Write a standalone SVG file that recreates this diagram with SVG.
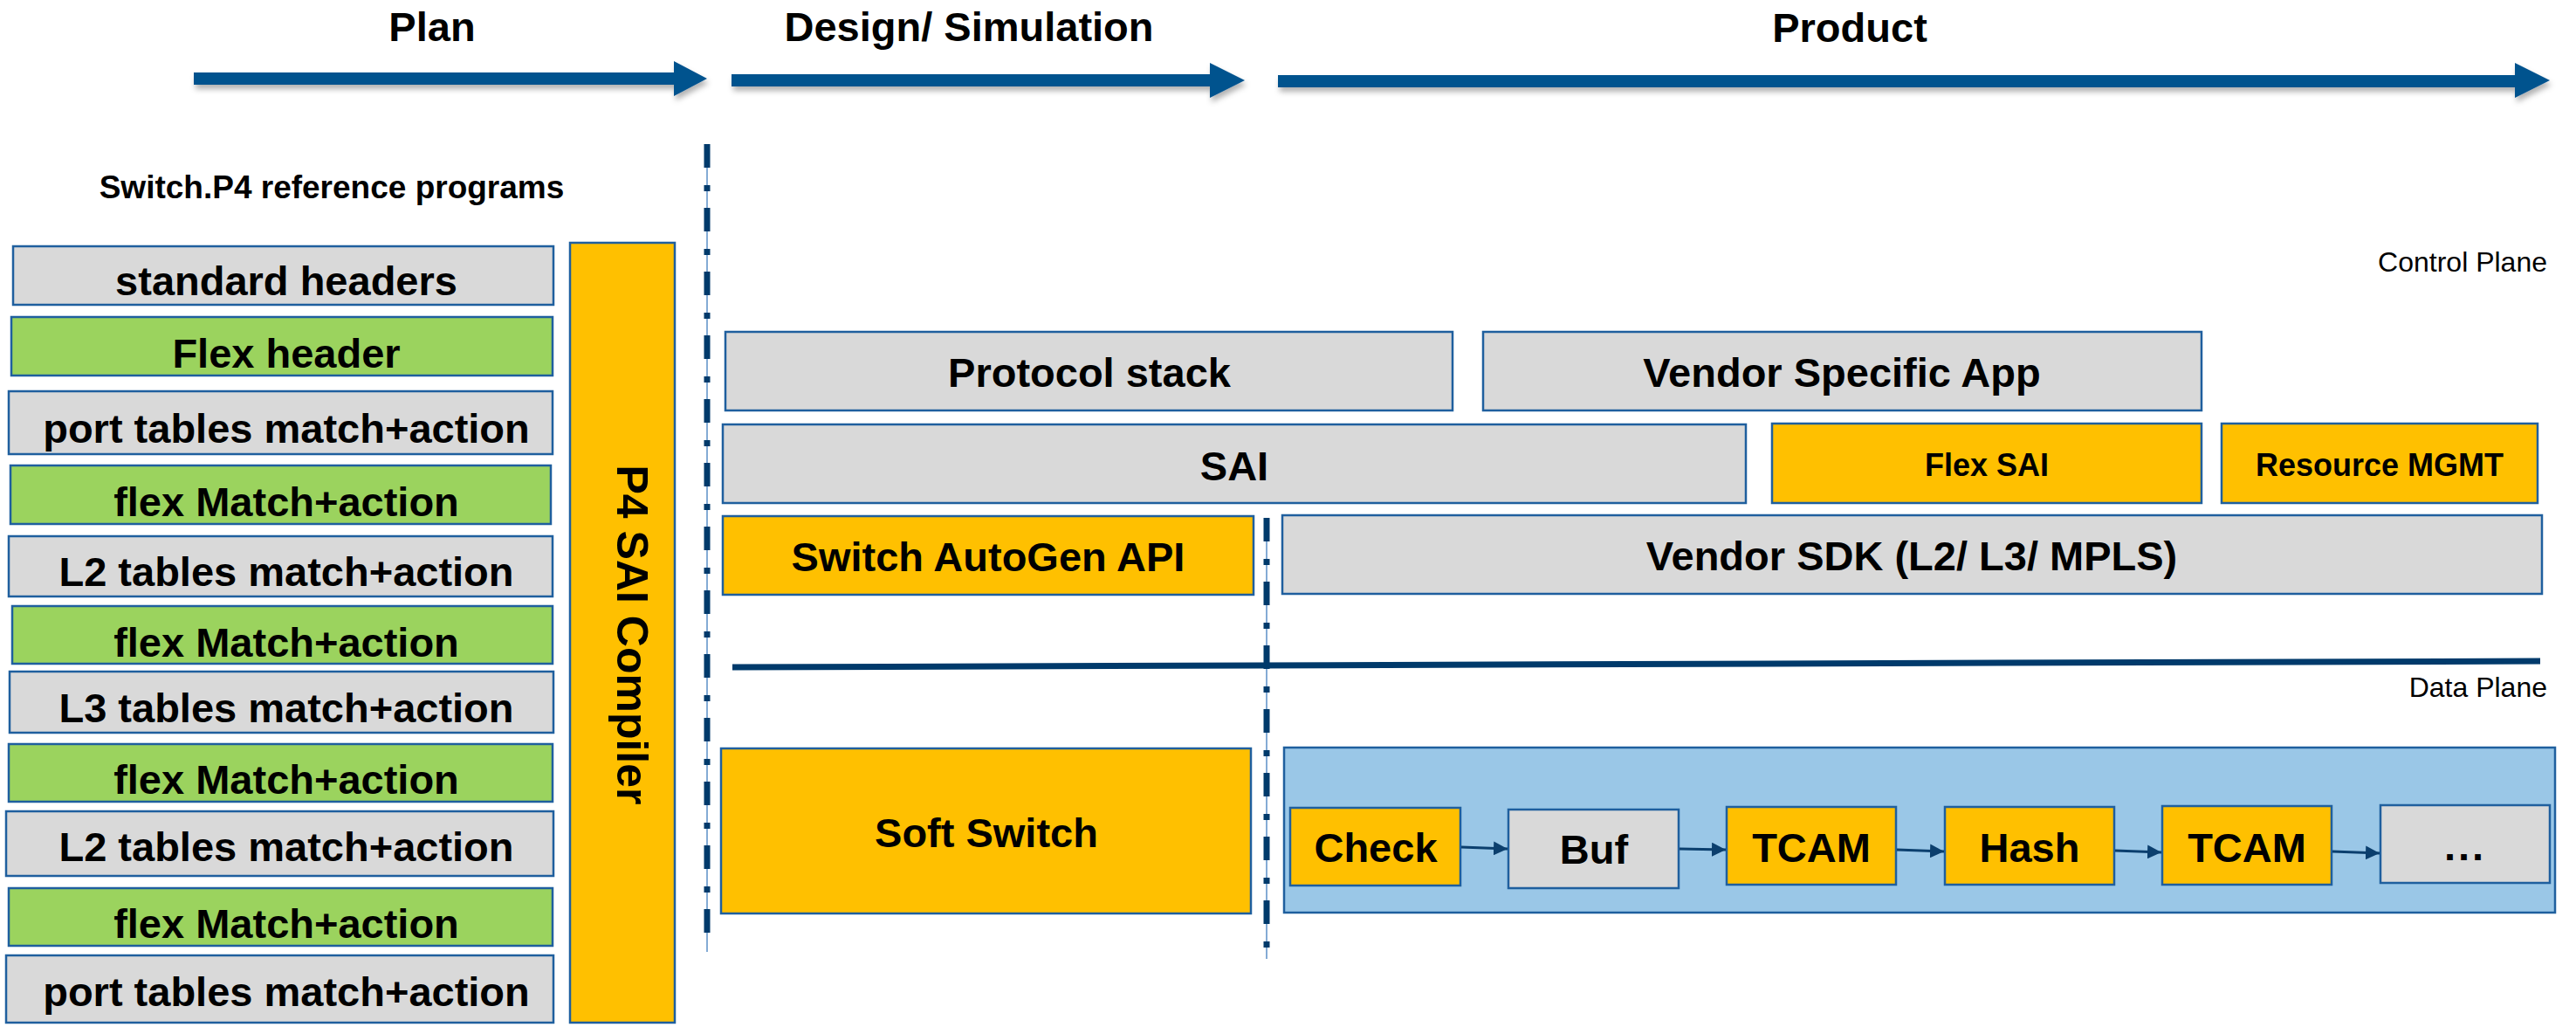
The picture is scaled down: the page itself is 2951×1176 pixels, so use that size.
<svg xmlns="http://www.w3.org/2000/svg" width="2951" height="1176" viewBox="0 0 2951 1176">
<style>
  .t{font-family:"Liberation Sans",Arial,sans-serif;font-weight:bold;fill:#000;text-anchor:middle}
  .lbl{font-size:47px}
  .sm{font-size:36px}
  .hd{font-size:47px}
  .plane{font-family:"Liberation Sans",Arial,sans-serif;font-size:32px;fill:#000;text-anchor:end}
  .box{stroke:#1F5F9E;stroke-width:2.5}
  .gray{fill:#D9D9D9}
  .green{fill:#9BD35E}
  .orange{fill:#FFC000}
  .lblue{fill:#9AC7E7}
  .big{fill:#02528E}
  .thin{stroke:#5B8FC7;stroke-width:1.5;fill:none}
  .dd{stroke:#003A6B;stroke-width:7;fill:none;stroke-dasharray:27 20 7 19}
  .conn{stroke:#0B3F6E;stroke-width:3;fill:none}
</style>
<defs>
  <filter id="sh" x="-5%" y="-50%" width="110%" height="200%">
    <feDropShadow dx="2" dy="5" stdDeviation="3" flood-color="#000" flood-opacity="0.3"/>
  </filter>
  <marker id="ah" markerUnits="userSpaceOnUse" markerWidth="18" markerHeight="16" refX="16" refY="8" orient="auto">
    <path d="M0,0 L16,8 L0,16 Z" fill="#0B3F6E"/>
  </marker>
</defs>
<rect width="2951" height="1176" fill="#fff"/>

<g id="timeline">
  <polygon class="big" filter="url(#sh)" points="222,83 772,83 772,70 810,90 772,110 772,97 222,97"/>
  <polygon class="big" filter="url(#sh)" points="838,85 1386,85 1386,72 1426,92 1386,112 1386,99 838,99"/>
  <polygon class="big" filter="url(#sh)" points="1464,86 2881,86 2881,72 2921,92 2881,112 2881,100 1464,100"/>
  <text class="t hd" x="495" y="47">Plan</text>
  <text class="t hd" x="1110" y="47">Design/ Simulation</text>
  <text class="t hd" x="2119" y="48">Product</text>
</g>

<g id="dividers">
  <line class="thin" x1="810" y1="165" x2="810" y2="1090"/>
  <line class="dd" x1="810" y1="165" x2="810" y2="1070"/>
  <line class="thin" x1="1451" y1="593" x2="1451" y2="1098"/>
  <line class="dd" x1="1451" y1="593" x2="1451" y2="1090"/>
  <line x1="839" y1="764" x2="2910" y2="757" stroke="#003A6B" stroke-width="7"/>
  <text class="plane" x="2918" y="311">Control Plane</text>
  <text class="plane" x="2918" y="798">Data Plane</text>
</g>

<g id="ref-title"><text class="t" style="font-size:37px" x="380" y="227">Switch.P4 reference programs</text></g>

<g id="n-standard-headers"><rect class="box gray" x="15" y="282" width="619" height="67"/><text class="t lbl" x="328" y="338">standard headers</text></g>
<g id="n-flex-header"><rect class="box green" x="13" y="363" width="620" height="67"/><text class="t lbl" x="328" y="421">Flex header</text></g>
<g id="n-port-tables-1"><rect class="box gray" x="10" y="448" width="623" height="72"/><text class="t lbl" x="328" y="507">port tables match+action</text></g>
<g id="n-flex-match-1"><rect class="box green" x="12" y="533" width="619" height="67"/><text class="t lbl" x="328" y="591">flex Match+action</text></g>
<g id="n-l2-tables-1"><rect class="box gray" x="10" y="614" width="623" height="69"/><text class="t lbl" x="328" y="671">L2 tables match+action</text></g>
<g id="n-flex-match-2"><rect class="box green" x="14" y="694" width="619" height="66"/><text class="t lbl" x="328" y="752">flex Match+action</text></g>
<g id="n-l3-tables"><rect class="box gray" x="11" y="769" width="623" height="70"/><text class="t lbl" x="328" y="827">L3 tables match+action</text></g>
<g id="n-flex-match-3"><rect class="box green" x="10" y="852" width="623" height="66"/><text class="t lbl" x="328" y="909">flex Match+action</text></g>
<g id="n-l2-tables-2"><rect class="box gray" x="7" y="929" width="627" height="74"/><text class="t lbl" x="328" y="986">L2 tables match+action</text></g>
<g id="n-flex-match-4"><rect class="box green" x="10" y="1017" width="623" height="66"/><text class="t lbl" x="328" y="1074">flex Match+action</text></g>
<g id="n-port-tables-2"><rect class="box gray" x="7" y="1094" width="627" height="77"/><text class="t lbl" x="328" y="1152">port tables match+action</text></g>

<g id="n-p4-sai-compiler"><rect class="box orange" x="653" y="278" width="120" height="893"/><text class="t" style="font-size:50px" transform="translate(707,727) rotate(90)" x="0" y="0">P4 SAI Compiler</text></g>

<g id="n-protocol-stack"><rect class="box gray" x="831" y="380" width="833" height="90"/><text class="t lbl" x="1248" y="443">Protocol stack</text></g>
<g id="n-vendor-app"><rect class="box gray" x="1699" y="380" width="823" height="90"/><text class="t lbl" x="2110" y="443">Vendor Specific App</text></g>
<g id="n-sai"><rect class="box gray" x="828" y="486" width="1172" height="90"/><text class="t lbl" x="1414" y="550">SAI</text></g>
<g id="n-flex-sai"><rect class="box orange" x="2030" y="485" width="492" height="91"/><text class="t sm" x="2276" y="545">Flex SAI</text></g>
<g id="n-resource-mgmt"><rect class="box orange" x="2545" y="485" width="362" height="91"/><text class="t sm" x="2726" y="545">Resource MGMT</text></g>
<g id="n-autogen-api"><rect class="box orange" x="828" y="591" width="608" height="90"/><text class="t lbl" x="1132" y="654">Switch AutoGen API</text></g>
<g id="n-vendor-sdk"><rect class="box gray" x="1469" y="590" width="1443" height="90"/><text class="t lbl" x="2190" y="653">Vendor SDK (L2/ L3/ MPLS)</text></g>
<g id="n-soft-switch"><rect class="box orange" x="826" y="857" width="607" height="189"/><text class="t lbl" x="1130" y="970">Soft Switch</text></g>

<g id="n-pipeline"><rect class="box lblue" x="1471" y="856" width="1456" height="189"/></g>
<g id="n-check"><rect class="box orange" x="1478" y="925" width="195" height="89"/><text class="t lbl" x="1576" y="987">Check</text></g>
<g id="n-buf"><rect class="box gray" x="1728" y="927" width="195" height="90"/><text class="t lbl" x="1826" y="989">Buf</text></g>
<g id="n-tcam-1"><rect class="box orange" x="1978" y="924" width="194" height="89"/><text class="t lbl" x="2075" y="987">TCAM</text></g>
<g id="n-hash"><rect class="box orange" x="2228" y="924" width="194" height="89"/><text class="t lbl" x="2325" y="987">Hash</text></g>
<g id="n-tcam-2"><rect class="box orange" x="2477" y="923" width="194" height="90"/><text class="t lbl" x="2574" y="987">TCAM</text></g>
<g id="n-more"><rect class="box gray" x="2727" y="922" width="194" height="89"/><text class="t lbl" x="2824" y="985" letter-spacing="3">...</text></g>

<g id="connectors">
  <line class="conn" x1="1674" y1="970" x2="1727" y2="972" marker-end="url(#ah)"/>
  <line class="conn" x1="1924" y1="972" x2="1977" y2="973" marker-end="url(#ah)"/>
  <line class="conn" x1="2173" y1="973" x2="2227" y2="975" marker-end="url(#ah)"/>
  <line class="conn" x1="2423" y1="974" x2="2476" y2="976" marker-end="url(#ah)"/>
  <line class="conn" x1="2672" y1="975" x2="2726" y2="977" marker-end="url(#ah)"/>
</g>
</svg>
